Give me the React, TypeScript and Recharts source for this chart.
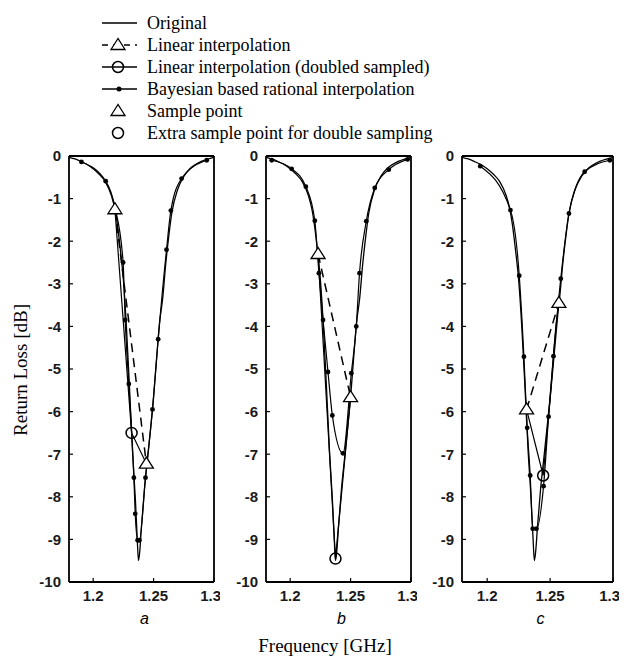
import React from 'react';
import { ComposedChart, Line, Scatter, XAxis, YAxis } from 'recharts';

// original response (same device in every panel)
const freqOrig = [1.18, 1.185, 1.19, 1.195, 1.2, 1.205, 1.21, 1.215, 1.218, 1.22, 1.2225, 1.225, 1.2275, 1.23, 1.2325, 1.235, 1.2365, 1.2375, 1.2385, 1.24, 1.2425, 1.245, 1.2475, 1.25, 1.2525, 1.255, 1.2575, 1.26, 1.2625, 1.265, 1.27, 1.275, 1.28, 1.29, 1.3];
const lossOrig = [-0.03, -0.07, -0.13, -0.2, -0.3, -0.43, -0.6, -0.92, -1.25, -1.6, -2.2, -2.9, -4.0, -5.4, -6.9, -8.1, -9.0, -9.5, -9.3, -8.7, -7.8, -7.1, -6.4, -5.66, -4.75, -3.9, -3.35, -2.55, -1.9, -1.35, -0.78, -0.48, -0.3, -0.12, -0.03];

// panel a
const sampleFreqA = [1.218, 1.244];
const sampleLossA = [-1.25, -7.22];
const extraFreqA = [1.2318];
const extraLossA = [-6.5];
const bayesFreqA = [1.1903, 1.2104, 1.218, 1.2248, 1.2265, 1.2295, 1.2337, 1.2348, 1.2368, 1.2382, 1.2433, 1.2491, 1.2538, 1.2607, 1.2643, 1.2732, 1.294];
const bayesLossA = [-0.14, -0.59, -1.2, -2.5, -3.85, -5.35, -7.55, -8.4, -9.02, -9.02, -7.55, -5.95, -4.3, -2.2, -1.28, -0.53, -0.1];

// panel b
const sampleFreqB = [1.2231, 1.25];
const sampleLossB = [-2.3, -5.66];
const extraFreqB = [1.2375];
const extraLossB = [-9.45];
const bayesFreqB = [1.1847, 1.2012, 1.213, 1.2204, 1.2238, 1.2272, 1.2313, 1.2349, 1.2437, 1.2506, 1.2547, 1.2574, 1.263, 1.27, 1.2816, 1.2972];
const bayesLossB = [-0.1, -0.3, -0.72, -1.52, -2.75, -3.85, -5.07, -6.09, -6.98, -5.1, -4.0, -2.75, -1.53, -0.75, -0.32, -0.08];

// panel c
const sampleFreqC = [1.2313, 1.257];
const sampleLossC = [-5.95, -3.45];
const extraFreqC = [1.2445];
const extraLossC = [-7.5];
const bayesFreqC = [1.1945, 1.2185, 1.2255, 1.2292, 1.2318, 1.2342, 1.2362, 1.2392, 1.2448, 1.2488, 1.2527, 1.2585, 1.265, 1.2775, 1.2975];
const bayesLossC = [-0.24, -1.27, -2.81, -4.71, -6.38, -7.5, -8.75, -8.75, -7.75, -6.12, -4.7, -2.88, -1.35, -0.37, -0.1];

const xTicks = [1.2, 1.25, 1.3];
const yTicks = [0, -1, -2, -3, -4, -5, -6, -7, -8, -9, -10];

const legendLabels = [
  'Original',
  'Linear interpolation',
  'Linear interpolation (doubled sampled)',
  'Bayesian based rational interpolation',
  'Sample point',
  'Extra sample point for double sampling',
];

type Pt = { f: number; v: number };
const zip = (f: number[], v: number[]): Pt[] => f.map((x, i) => ({ f: x, v: v[i] }));

const Triangle = (props: any) => {
  const { cx, cy } = props;
  if (cx == null || cy == null) return null;
  return (
    <polygon
      points={`${cx},${cy - 6.5} ${cx - 7},${cy + 4.5} ${cx + 7},${cy + 4.5}`}
      fill="#fff"
      stroke="#000"
      strokeWidth={1.3}
    />
  );
};

const Ring = (props: any) => {
  const { cx, cy } = props;
  if (cx == null || cy == null) return null;
  return <circle cx={cx} cy={cy} r={5.5} fill="none" stroke="#000" strokeWidth={1.5} />;
};

const tickFont = { fontSize: 15, fill: '#1a1a1a', fontWeight: 'bold', fontFamily: 'Liberation Sans, Arial, sans-serif' };
const frame = { stroke: '#000', strokeWidth: 1.8 };
const tickStroke = { stroke: '#000', strokeWidth: 1.2 };

interface PanelProps {
  left: number;
  width: number;
  sampleFreq: number[];
  sampleLoss: number[];
  extraFreq: number[];
  extraLoss: number[];
  bayesFreq: number[];
  bayesLoss: number[];
}

const Panel: React.FC<PanelProps> = ({ left, width, sampleFreq, sampleLoss, extraFreq, extraLoss, bayesFreq, bayesLoss }) => {
  const orig = zip(freqOrig, lossOrig);
  const samples = zip(sampleFreq, sampleLoss);
  const extra = zip(extraFreq, extraLoss);
  const bayes = zip(bayesFreq, bayesLoss);
  const doubled = [...samples, ...extra].sort((p, q) => p.f - q.f);

  return (
    <div style={{ position: 'absolute', left: left - 40, top: 140 }}>
      <ComposedChart width={40 + width + 6} height={472} margin={{ top: 15, right: 5, bottom: 0, left: 0 }}>
        <XAxis
          xAxisId="b"
          type="number"
          dataKey="f"
          domain={[1.18, 1.3]}
          ticks={xTicks}
          allowDataOverflow
          height={30}
          tickSize={-4}
          tickMargin={12}
          axisLine={frame}
          tickLine={tickStroke}
          tick={tickFont}
        />
        <XAxis
          xAxisId="t"
          orientation="top"
          type="number"
          dataKey="f"
          domain={[1.18, 1.3]}
          ticks={xTicks}
          allowDataOverflow
          height={1}
          tickSize={-4}
          axisLine={frame}
          tickLine={tickStroke}
          tick={false}
        />
        <YAxis
          yAxisId="l"
          type="number"
          dataKey="v"
          domain={[-10, 0]}
          ticks={yTicks}
          allowDataOverflow
          width={40}
          tickSize={-4}
          tickMargin={12}
          axisLine={frame}
          tickLine={tickStroke}
          tick={tickFont}
        />
        <YAxis
          yAxisId="r"
          orientation="right"
          type="number"
          dataKey="v"
          domain={[-10, 0]}
          ticks={yTicks}
          allowDataOverflow
          width={1}
          tickSize={-4}
          axisLine={frame}
          tickLine={tickStroke}
          tick={false}
        />
        {/* invisible copy so the top and right frame axes have a series */}
        <Line xAxisId="t" yAxisId="r" data={orig} dataKey="v" stroke="none" dot={false} activeDot={false} isAnimationActive={false} />
        <Line xAxisId="b" yAxisId="l" data={orig} dataKey="v" type="monotone" stroke="#000" strokeWidth={1.3} dot={false} isAnimationActive={false} />
        <Line xAxisId="b" yAxisId="l" data={bayes} dataKey="v" type="monotone" stroke="#000" strokeWidth={1.2} dot={{ r: 2.4, fill: '#000', stroke: '#000', strokeWidth: 0 }} isAnimationActive={false} />
        <Line xAxisId="b" yAxisId="l" data={doubled} dataKey="v" type="linear" stroke="#000" strokeWidth={1.2} dot={false} isAnimationActive={false} />
        <Line xAxisId="b" yAxisId="l" data={samples} dataKey="v" type="linear" stroke="#000" strokeWidth={1.5} strokeDasharray="9 6" dot={false} isAnimationActive={false} />
        <Scatter xAxisId="b" yAxisId="l" data={samples} dataKey="v" shape={<Triangle />} isAnimationActive={false} />
        <Scatter xAxisId="b" yAxisId="l" data={extra} dataKey="v" shape={<Ring />} isAnimationActive={false} />
      </ComposedChart>
    </div>
  );
};

const serif = 'Liberation Serif, Times New Roman, serif';

const Legend = () => (
  <g fontFamily={serif} fontSize={18} fill="#000">
    {legendLabels.map((label, i) => {
      const y = 23 + i * 22;
      return (
        <g key={label}>
          {i === 0 && <line x1={102} x2={137} y1={y} y2={y} stroke="#000" strokeWidth={1.5} />}
          {i === 1 && <line x1={102} x2={137} y1={y} y2={y} stroke="#000" strokeWidth={1.5} strokeDasharray="6 5" />}
          {(i === 1 || i === 4) && <Triangle cx={118} cy={y} />}
          {i === 2 && <line x1={102} x2={137} y1={y} y2={y} stroke="#000" strokeWidth={1.5} />}
          {(i === 2 || i === 5) && <Ring cx={118} cy={y} />}
          {i === 3 && <line x1={102} x2={137} y1={y} y2={y} stroke="#000" strokeWidth={1.5} />}
          {i === 3 && <circle cx={119} cy={y} r={2.5} fill="#000" />}
          <text x={147} y={y + 6}>{label}</text>
        </g>
      );
    })}
  </g>
);

const panels = [
  { left: 69, width: 145, name: 'a', sf: sampleFreqA, sl: sampleLossA, ef: extraFreqA, el: extraLossA, bf: bayesFreqA, bl: bayesLossA },
  { left: 266, width: 145, name: 'b', sf: sampleFreqB, sl: sampleLossB, ef: extraFreqB, el: extraLossB, bf: bayesFreqB, bl: bayesLossB },
  { left: 462, width: 151, name: 'c', sf: sampleFreqC, sl: sampleLossC, ef: extraFreqC, el: extraLossC, bf: bayesFreqC, bl: bayesLossC },
];

export default function App() {
  return (
    <div style={{ position: 'absolute', left: 0, top: 0, width: 634, height: 657, background: '#fff' }}>
      {panels.map((p) => (
        <Panel
          key={p.name}
          left={p.left}
          width={p.width}
          sampleFreq={p.sf}
          sampleLoss={p.sl}
          extraFreq={p.ef}
          extraLoss={p.el}
          bayesFreq={p.bf}
          bayesLoss={p.bl}
        />
      ))}
      <svg width={634} height={657} style={{ position: 'absolute', left: 0, top: 0, pointerEvents: 'none' }}>
        <Legend />
        {panels.map((p) => (
          <text
            key={p.name}
            x={p.left + p.width / 2 + 3}
            y={624}
            textAnchor="middle"
            fontFamily="Liberation Sans, Arial, sans-serif"
            fontStyle="italic"
            fontSize={16}
          >
            {p.name}
          </text>
        ))}
        <text x={325} y={652} textAnchor="middle" fontFamily={serif} fontSize={19}>
          Frequency [GHz]
        </text>
        <text
          x={0}
          y={0}
          transform="translate(27, 370) rotate(-90)"
          textAnchor="middle"
          fontFamily={serif}
          fontSize={19}
        >
          Return Loss [dB]
        </text>
      </svg>
    </div>
  );
}
